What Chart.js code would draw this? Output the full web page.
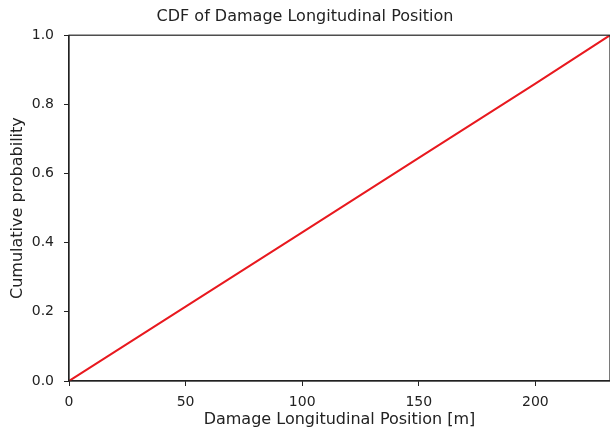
<!DOCTYPE html>
<html>
<head>
<meta charset="utf-8">
<script src="https://cdn.jsdelivr.net/npm/chart.js@4/dist/chart.umd.min.js"></script>
<style>
  html, body { margin: 0; padding: 0; background: #fff; }
  #wrap { width: 610px; height: 432px; }
</style>
</head>
<body>
<div id="wrap"><canvas id="myChart" width="610" height="432"></canvas></div>
<script>
'use strict';

// values
let positions = [0, 50, 100, 150, 200, 232];
let cumulative = [0, 0.215, 0.43, 0.645, 0.86, 1.0];
let xTicks = [0, 50, 100, 150, 200];
let yTicks = [0, 0.2, 0.4, 0.6, 0.8, 1.0];

let points = [];
for (let i = 0; i < positions.length; i++) {
  points.push({ x: positions[i], y: cumulative[i] });
}

let textColor = '#222';
let fontFamily = '"DejaVu Sans", sans-serif';

// matplotlib style box round the plot
let frame = {
  id: 'frame',
  afterDraw(chart) {
    let a = chart.chartArea;
    let ctx = chart.ctx;
    ctx.save();
    ctx.strokeStyle = '#222';
    ctx.lineWidth = 1.2;
    ctx.strokeRect(a.left, a.top, a.right - a.left, a.bottom - a.top);
    ctx.restore();
  }
};

let ctx = document.getElementById('myChart').getContext('2d');
let chart = new Chart(ctx, {
  type: 'line',
  data: {
    datasets: [{
      label: 'CDF',
      data: points,
      borderColor: '#e8191f',
      borderWidth: 2,
      pointRadius: 0,
      tension: 0,
      fill: false
    }]
  },
  options: {
    responsive: false,
    animation: false,
    layout: { padding: 0 },
    plugins: {
      legend: { display: false },
      tooltip: { enabled: false },
      title: {
        display: true,
        text: 'CDF of Damage Longitudinal Position',
        color: textColor,
        font: { family: fontFamily, size: 16, weight: 'normal' },
        padding: { top: 7, bottom: 9 }
      }
    },
    scales: {
      x: {
        type: 'linear',
        min: 0,
        max: 232,
        afterBuildTicks(scale) {
          scale.ticks = xTicks.map(v => ({ value: v }));
        },
        afterFit(scale) { scale.height = 51; },
        grid: { drawOnChartArea: false, drawTicks: true, tickLength: 5, color: '#222' },
        border: { display: true, color: '#222', width: 1.2 },
        ticks: {
          color: textColor,
          padding: 8,
          maxRotation: 0,
          font: { family: fontFamily, size: 14 }
        },
        title: {
          display: true,
          text: 'Damage Longitudinal Position [m]',
          color: textColor,
          font: { family: fontFamily, size: 16 },
          padding: { top: 0, bottom: 3 }
        }
      },
      y: {
        type: 'linear',
        min: 0,
        max: 1,
        afterBuildTicks(scale) {
          scale.ticks = yTicks.map(v => ({ value: v }));
        },
        afterFit(scale) { scale.width = 69; },
        grid: { drawOnChartArea: false, drawTicks: true, tickLength: 5, color: '#222' },
        border: { display: true, color: '#222', width: 1.2 },
        ticks: {
          color: textColor,
          padding: 10,
          font: { family: fontFamily, size: 14 },
          callback: v => v.toFixed(1)
        },
        title: {
          display: true,
          text: 'Cumulative probability',
          color: textColor,
          font: { family: fontFamily, size: 16 },
          padding: { top: 8, bottom: 0 }
        }
      }
    }
  },
  plugins: [frame]
});
</script>
</body>
</html>
